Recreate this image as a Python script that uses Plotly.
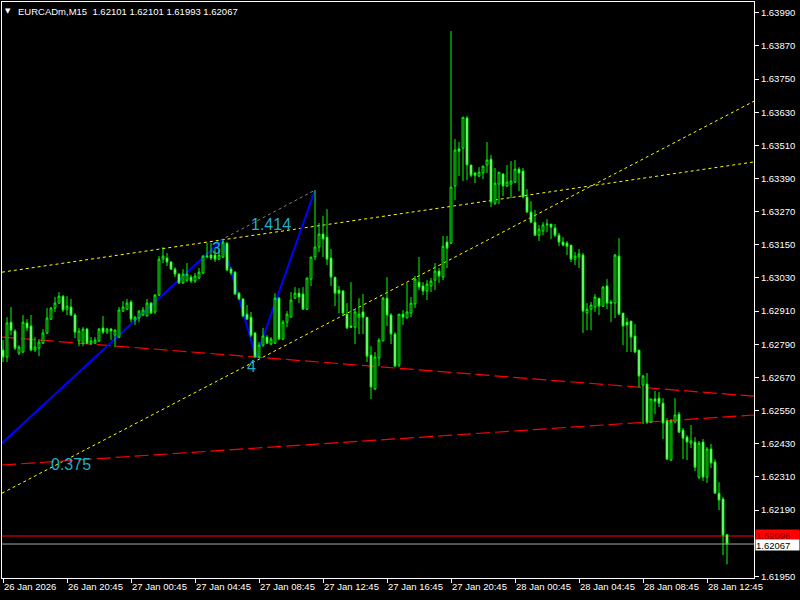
import plotly.graph_objects as go

symbol = "EURCADm,M15"

# bar index (0 = 26 Jan 16:45, one bar per 15 minutes)
tick_bars = [0, 16, 32, 48, 64, 80, 96, 112, 128, 144, 160, 176]
tick_labels = ["26 Jan 2026", "26 Jan 20:45", "27 Jan 00:45", "27 Jan 04:45",
               "27 Jan 08:45", "27 Jan 12:45", "27 Jan 16:45", "27 Jan 20:45",
               "28 Jan 00:45", "28 Jan 04:45", "28 Jan 08:45", "28 Jan 12:45"]
# 1.62070 is hidden behind the bid/ask price boxes in the reference
price_ticks = [1.63990, 1.63870, 1.63750, 1.63630, 1.63510, 1.63390, 1.63270,
               1.63150, 1.63030, 1.62910, 1.62790, 1.62670, 1.62550, 1.62430,
               1.62310, 1.62190, 1.61950]

opens = [
 1.62769, 1.62744, 1.62870, 1.62838, 1.62758, 1.62762, 1.62867, 1.62856, 1.62769, 1.62776,
 1.62794, 1.62831, 1.62881, 1.62921, 1.62939, 1.62964, 1.62917, 1.62925, 1.62896, 1.62802,
 1.62794, 1.62845, 1.62794, 1.62794, 1.62802, 1.62849, 1.62834, 1.62845, 1.62823, 1.62816,
 1.62910, 1.62917, 1.62943, 1.62878, 1.62885, 1.62896, 1.62892, 1.62939, 1.62907, 1.62968,
 1.63098, 1.63102, 1.63088, 1.63062, 1.63044, 1.63012, 1.63022, 1.63033, 1.63019, 1.63030,
 1.63048, 1.63106, 1.63113, 1.63113, 1.63098, 1.63106, 1.63156, 1.63062, 1.63051, 1.62975,
 1.62954, 1.62899, 1.62888, 1.62831, 1.62744, 1.62787, 1.62816, 1.62791, 1.62794, 1.62957,
 1.62809, 1.62870, 1.62888, 1.62957, 1.62975, 1.62972, 1.62917, 1.63026, 1.63106, 1.63142,
 1.63189, 1.63178, 1.63102, 1.63033, 1.62986, 1.62983, 1.62899, 1.62856, 1.62852, 1.62888,
 1.62907, 1.62888, 1.62751, 1.62628, 1.62740, 1.62802, 1.62957, 1.62896, 1.62827, 1.62715,
 1.62899, 1.62885, 1.62903, 1.62936, 1.63015, 1.63001, 1.62983, 1.63001, 1.63022, 1.63055,
 1.63033, 1.63160, 1.63156, 1.63363, 1.63497, 1.63500, 1.63609, 1.63439, 1.63410, 1.63399,
 1.63410, 1.63439, 1.63460, 1.63301, 1.63370, 1.63406, 1.63363, 1.63370, 1.63377, 1.63424,
 1.63417, 1.63323, 1.63269, 1.63232, 1.63185, 1.63200, 1.63222, 1.63225, 1.63211, 1.63185,
 1.63160, 1.63156, 1.63149, 1.63098, 1.63106, 1.63113, 1.62903, 1.62917, 1.62925, 1.62957,
 1.62928, 1.63001, 1.62943, 1.62939, 1.63109, 1.62903, 1.62870, 1.62874, 1.62820, 1.62769,
 1.62642, 1.62646, 1.62508, 1.62592, 1.62595, 1.62577, 1.62512, 1.62371, 1.62508, 1.62537,
 1.62479, 1.62454, 1.62432, 1.62436, 1.62309, 1.62436, 1.62309, 1.62411, 1.62364, 1.62251,
 1.62230, 1.62101]

highs = [
 1.62805, 1.62888, 1.62925, 1.62845, 1.62787, 1.62896, 1.62881, 1.62896, 1.62816, 1.62809,
 1.62845, 1.62921, 1.62925, 1.62961, 1.62979, 1.62968, 1.62964, 1.62954, 1.62903, 1.62849,
 1.62852, 1.62849, 1.62816, 1.62816, 1.62849, 1.62892, 1.62849, 1.62849, 1.62845, 1.62925,
 1.62946, 1.62954, 1.62950, 1.62892, 1.62914, 1.62925, 1.62954, 1.62943, 1.62972, 1.63109,
 1.63142, 1.63120, 1.63091, 1.63069, 1.63048, 1.63062, 1.63084, 1.63041, 1.63048, 1.63066,
 1.63113, 1.63156, 1.63156, 1.63138, 1.63131, 1.63167, 1.63160, 1.63069, 1.63055, 1.62979,
 1.62957, 1.62932, 1.62907, 1.62834, 1.62798, 1.62849, 1.62823, 1.62816, 1.62975, 1.62961,
 1.62878, 1.62910, 1.62979, 1.62997, 1.62993, 1.62997, 1.63030, 1.63106, 1.63348, 1.63229,
 1.63254, 1.63279, 1.63135, 1.63033, 1.63001, 1.62986, 1.62939, 1.63015, 1.62917, 1.62957,
 1.62972, 1.62888, 1.62783, 1.62762, 1.62812, 1.62961, 1.63033, 1.62903, 1.62834, 1.62899,
 1.62914, 1.63012, 1.62961, 1.63037, 1.63106, 1.63015, 1.63022, 1.63030, 1.63084, 1.63066,
 1.63182, 1.63182, 1.63924, 1.63533, 1.63522, 1.63612, 1.63616, 1.63439, 1.63413, 1.63431,
 1.63435, 1.63522, 1.63475, 1.63428, 1.63413, 1.63410, 1.63439, 1.63453, 1.63457, 1.63431,
 1.63428, 1.63352, 1.63308, 1.63276, 1.63222, 1.63232, 1.63243, 1.63225, 1.63225, 1.63193,
 1.63178, 1.63164, 1.63149, 1.63124, 1.63135, 1.63120, 1.62939, 1.62943, 1.62972, 1.62957,
 1.63001, 1.63026, 1.62950, 1.63117, 1.63174, 1.62903, 1.62885, 1.62874, 1.62863, 1.62769,
 1.62679, 1.62686, 1.62592, 1.62621, 1.62617, 1.62595, 1.62523, 1.62519, 1.62595, 1.62545,
 1.62487, 1.62461, 1.62498, 1.62454, 1.62440, 1.62447, 1.62418, 1.62429, 1.62374, 1.62291,
 1.62237, 1.62101]

lows = [
 1.62726, 1.62726, 1.62823, 1.62769, 1.62751, 1.62758, 1.62838, 1.62765, 1.62762, 1.62747,
 1.62791, 1.62827, 1.62878, 1.62907, 1.62936, 1.62907, 1.62896, 1.62892, 1.62812, 1.62783,
 1.62783, 1.62791, 1.62787, 1.62791, 1.62798, 1.62827, 1.62827, 1.62805, 1.62780, 1.62812,
 1.62907, 1.62914, 1.62870, 1.62860, 1.62870, 1.62892, 1.62892, 1.62899, 1.62899, 1.62964,
 1.63084, 1.63073, 1.63059, 1.63033, 1.63008, 1.63008, 1.63015, 1.63012, 1.63012, 1.63026,
 1.63044, 1.63102, 1.63095, 1.63088, 1.63095, 1.63102, 1.63055, 1.63041, 1.62968, 1.62950,
 1.62888, 1.62881, 1.62816, 1.62744, 1.62740, 1.62780, 1.62791, 1.62787, 1.62791, 1.62805,
 1.62805, 1.62852, 1.62888, 1.62954, 1.62939, 1.62917, 1.62914, 1.63001, 1.63095, 1.63124,
 1.63106, 1.63077, 1.63001, 1.62928, 1.62903, 1.62892, 1.62845, 1.62849, 1.62791, 1.62827,
 1.62827, 1.62726, 1.62592, 1.62624, 1.62711, 1.62802, 1.62856, 1.62791, 1.62707, 1.62707,
 1.62860, 1.62885, 1.62888, 1.62921, 1.62986, 1.62968, 1.62950, 1.62979, 1.62986, 1.63012,
 1.63022, 1.63066, 1.63153, 1.63312, 1.63399, 1.63381, 1.63384, 1.63395, 1.63373, 1.63395,
 1.63388, 1.63410, 1.63287, 1.63294, 1.63298, 1.63326, 1.63359, 1.63319, 1.63373, 1.63345,
 1.63319, 1.63265, 1.63229, 1.63182, 1.63164, 1.63185, 1.63196, 1.63171, 1.63178, 1.63145,
 1.63145, 1.63113, 1.63088, 1.63077, 1.63066, 1.62831, 1.62841, 1.62841, 1.62907, 1.62896,
 1.62925, 1.62917, 1.62870, 1.62885, 1.62896, 1.62787, 1.62762, 1.62762, 1.62758, 1.62635,
 1.62501, 1.62501, 1.62505, 1.62537, 1.62563, 1.62447, 1.62371, 1.62367, 1.62508, 1.62469,
 1.62374, 1.62371, 1.62414, 1.62331, 1.62302, 1.62295, 1.62288, 1.62342, 1.62251, 1.62190,
 1.62027, 1.61993]

closes = [
 1.62744, 1.62867, 1.62841, 1.62776, 1.62780, 1.62870, 1.62849, 1.62769, 1.62780, 1.62798,
 1.62831, 1.62885, 1.62921, 1.62939, 1.62964, 1.62914, 1.62928, 1.62896, 1.62834, 1.62838,
 1.62845, 1.62794, 1.62802, 1.62805, 1.62845, 1.62834, 1.62845, 1.62838, 1.62841, 1.62914,
 1.62925, 1.62939, 1.62881, 1.62888, 1.62910, 1.62914, 1.62939, 1.62903, 1.62968, 1.63098,
 1.63109, 1.63088, 1.63062, 1.63044, 1.63012, 1.63044, 1.63044, 1.63019, 1.63037, 1.63051,
 1.63109, 1.63109, 1.63102, 1.63098, 1.63113, 1.63160, 1.63059, 1.63048, 1.62972, 1.62954,
 1.62892, 1.62881, 1.62823, 1.62744, 1.62787, 1.62820, 1.62794, 1.62809, 1.62957, 1.62809,
 1.62870, 1.62899, 1.62950, 1.62975, 1.62961, 1.62917, 1.63030, 1.63106, 1.63142, 1.63189,
 1.63171, 1.63098, 1.63033, 1.62975, 1.62975, 1.62903, 1.62849, 1.62852, 1.62907, 1.62899,
 1.62888, 1.62747, 1.62635, 1.62744, 1.62805, 1.62957, 1.62896, 1.62827, 1.62711, 1.62899,
 1.62888, 1.62907, 1.62939, 1.63026, 1.62997, 1.62983, 1.63008, 1.63019, 1.63055, 1.63037,
 1.63145, 1.63138, 1.63359, 1.63493, 1.63489, 1.63612, 1.63439, 1.63402, 1.63402, 1.63413,
 1.63435, 1.63457, 1.63305, 1.63373, 1.63413, 1.63363, 1.63377, 1.63381, 1.63424, 1.63410,
 1.63323, 1.63269, 1.63232, 1.63185, 1.63207, 1.63222, 1.63225, 1.63214, 1.63185, 1.63160,
 1.63149, 1.63145, 1.63098, 1.63109, 1.63117, 1.62910, 1.62917, 1.62932, 1.62961, 1.62928,
 1.62997, 1.62939, 1.62939, 1.63113, 1.62899, 1.62856, 1.62860, 1.62816, 1.62762, 1.62675,
 1.62675, 1.62508, 1.62592, 1.62584, 1.62577, 1.62505, 1.62374, 1.62512, 1.62534, 1.62472,
 1.62450, 1.62436, 1.62440, 1.62345, 1.62432, 1.62309, 1.62411, 1.62360, 1.62251, 1.62226,
 1.62099, 1.62067]

ask_price = 1.62096
bid_price = closes[-1]

# drawn objects (bar index, price)
edge_x = [-0.25, 187.75]
yellow_upper_y = [1.63051, 1.63450]
yellow_lower_y = [1.62251, 1.63670]
red_upper_y = [1.62816, 1.62602]
red_lower_y = [1.62353, 1.62534]
blue_x = [-0.25, 54.75, 63.25, 78.0]
blue_y = [1.62432, 1.63167, 1.62744, 1.63348]
grey_x = [53.0, 78.0]
grey_y = [1.63156, 1.63348]
label_texts = ["0.375", "1.414", "3", "4"]
label_x = [17.0, 67.0, 53.25, 62.0]
label_y = [1.62356, 1.63225, 1.63138, 1.62711]

bars = list(range(len(opens)))

fig = go.Figure()
fig.add_trace(go.Candlestick(
    x=bars, open=opens, high=highs, low=lows, close=closes,
    increasing=dict(line=dict(color="#00FF00", width=1), fillcolor="#000000"),
    decreasing=dict(line=dict(color="#00FF00", width=1), fillcolor="#FFFFFF"),
    whiskerwidth=0, hoverinfo="skip", showlegend=False,
))

shapes = []
def seg(x0, y0, x1, y1, color, width, dash):
    shapes.append(dict(type="line", xref="x", yref="y", x0=x0, y0=y0, x1=x1, y1=y1,
                       line=dict(color=color, width=width, dash=dash), layer="below"))

seg(edge_x[0], yellow_upper_y[0], edge_x[1], yellow_upper_y[1], "#FFFF00", 1, "3px,3px")
seg(edge_x[0], yellow_lower_y[0], edge_x[1], yellow_lower_y[1], "#FFFF00", 1, "3px,3px")
seg(edge_x[0], red_upper_y[0], edge_x[1], red_upper_y[1], "#FF0000", 1.2, "14px,5px")
seg(edge_x[0], red_lower_y[0], edge_x[1], red_lower_y[1], "#FF0000", 1.2, "14px,5px")
seg(grey_x[0], grey_y[0], grey_x[1], grey_y[1], "#808080", 1, "3px,3px")
for k in range(len(blue_x) - 1):
    seg(blue_x[k], blue_y[k], blue_x[k + 1], blue_y[k + 1], "#0000FF", 2, "solid")
seg(edge_x[0], ask_price, edge_x[1], ask_price, "#FF0000", 1, "solid")
seg(edge_x[0], bid_price, edge_x[1], bid_price, "#A8A8A8", 1, "solid")

annotations = []
for t, lx, ly in zip(label_texts, label_x, label_y):
    annotations.append(dict(x=lx, y=ly, xref="x", yref="y", text=t, showarrow=False,
                            font=dict(family="Liberation Sans, Arial", size=16, color="#1AAFC8")))

header = "%s  %.5f %.5f %.5f %.5f" % (symbol, opens[-1], highs[-1], lows[-1], closes[-1])
annotations.append(dict(x=0, y=1, xref="paper", yref="paper", xanchor="left", yanchor="top",
                        xshift=14, yshift=-2, text=header, showarrow=False,
                        font=dict(family="Liberation Sans, Arial", size=9.5, color="#FFFFFF")))
annotations.append(dict(x=0, y=1, xref="paper", yref="paper", xanchor="left", yanchor="top",
                        xshift=1, yshift=-3, text="\u25BC", showarrow=False,
                        font=dict(family="DejaVu Sans", size=7, color="#FFFFFF")))
annotations.append(dict(x=1, y=ask_price, xref="paper", yref="y", xanchor="left", yanchor="middle",
                        xshift=1, yshift=1, width=43, height=10, align="left",
                        text="%.5f" % ask_price, showarrow=False, bgcolor="#FF0000",
                        borderpad=0, font=dict(family="Liberation Sans, Arial", size=9.5, color="#800000")))
annotations.append(dict(x=1, y=bid_price, xref="paper", yref="y", xanchor="left", yanchor="middle",
                        xshift=1, yshift=-1, width=43, height=10, align="left",
                        text="%.5f" % bid_price, showarrow=False, bgcolor="#FFFFFF",
                        borderpad=0, font=dict(family="Liberation Sans, Arial", size=9.5, color="#000000")))

axis_font = dict(family="Liberation Sans, Arial", size=9.5, color="#FFFFFF")
fig.update_layout(
    width=800, height=600, autosize=False,
    margin=dict(l=2, r=46, t=2, b=22, pad=0, autoexpand=False),
    paper_bgcolor="#000000", plot_bgcolor="#000000",
    showlegend=False, hovermode=False, boxgap=0.35,
    shapes=shapes, annotations=annotations,
    xaxis=dict(range=[edge_x[0], edge_x[1]], rangeslider=dict(visible=False),
               automargin=False, tickangle=0,
               showgrid=False, zeroline=False, showline=True, mirror=True,
               linecolor="#FFFFFF", linewidth=1, ticks="outside", ticklen=4,
               tickcolor="#FFFFFF", tickvals=tick_bars, ticktext=tick_labels,
               ticklabelposition="outside right", tickfont=axis_font),
    yaxis=dict(range=[1.61944, 1.64029], side="right", showgrid=False, zeroline=False,
               automargin=False,
               showline=True, mirror=True, linecolor="#FFFFFF", linewidth=1,
               ticks="outside", ticklen=4, tickcolor="#FFFFFF",
               tickvals=price_ticks, ticktext=["%.5f" % v for v in price_ticks],
               tickfont=axis_font),
)

fig.write_html("out.html", config={"displayModeBar": False},
               post_script="document.body.style.margin='0';document.body.style.background='#000';")
